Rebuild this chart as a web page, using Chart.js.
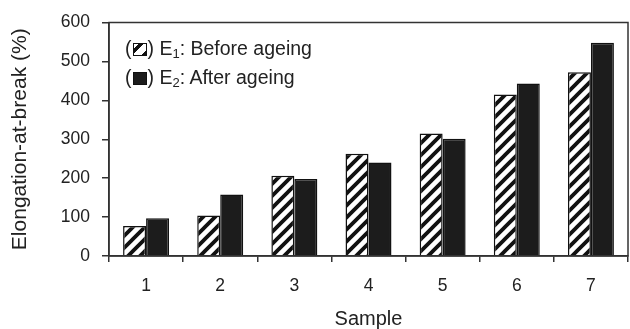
<!DOCTYPE html>
<html>
<head>
<meta charset="utf-8">
<script src="https://cdn.jsdelivr.net/npm/chart.js@4/dist/chart.umd.min.js"></script>
<style>
  html, body { margin: 0; padding: 0; background: #fff; }
  #wrap { position: relative; width: 630px; height: 329px; }
  #legend {
    position: absolute; left: 125px; top: 34px;
    font-family: "Liberation Sans", Arial, sans-serif; font-size: 19.5px; color: #222;
    line-height: 29px;
  }
  #legend sub { font-size: 13px; vertical-align: -3px; line-height: 0; }
  .box { display: inline-block; width: 14px; height: 13px; border: 1.5px solid #111;
         vertical-align: -1px; margin: 0 1px; box-sizing: border-box; }
  .hatch { background: repeating-linear-gradient(135deg, #fff 0 3px, #111 3px 6.5px, #fff 6.5px 10px); }
  .solid { background: #1c1c1c; }
</style>
</head>
<body>
<div id="wrap">
  <canvas id="elongChart" width="630" height="329"></canvas>
  <div id="legend">
    <div>(<span class="box hatch"></span>) E<sub>1</sub>: Before ageing</div>
    <div>(<span class="box solid"></span>) E<sub>2</sub>: After ageing</div>
  </div>
</div>
<script>
// 데이터
const samples = ['1', '2', '3', '4', '5', '6', '7'];
const beforeAgeing = [77, 104, 206, 263, 315, 415, 472];
const afterAgeing = [97, 158, 198, 240, 301, 443, 548];

// 빗금 패턴 만들기
function makeHatch() {
    const size = 12;
    const c = document.createElement('canvas');
    c.width = size; c.height = size;
    const g = c.getContext('2d');
    g.fillStyle = '#fff';
    g.fillRect(0, 0, size, size);
    g.strokeStyle = '#111';
    g.lineWidth = 3.8;
    g.beginPath();
    g.moveTo(-2, size + 2); g.lineTo(size + 2, -2);
    g.moveTo(-2, 2); g.lineTo(2, -2);
    g.moveTo(size - 2, size + 2); g.lineTo(size + 2, size - 2);
    g.stroke();
    return g.createPattern(c, 'repeat');
}

const ctx = document.getElementById('elongChart').getContext('2d');
const font = { family: '"Liberation Sans", Arial, sans-serif' };

// 플롯 영역 테두리
const frame = {
    id: 'frame',
    afterDraw(chart) {
        const a = chart.chartArea;
        const g = chart.ctx;
        g.save();
        g.strokeStyle = '#333';
        g.lineWidth = 1.5;
        g.strokeRect(a.left, a.top, a.right - a.left, a.bottom - a.top);
        g.restore();
    }
};

new Chart(ctx, {
    type: 'bar',
    data: {
        labels: samples,
        datasets: [{
            label: 'E1: Before ageing',
            data: beforeAgeing,
            backgroundColor: makeHatch(),
            borderColor: '#111',
            borderWidth: 1.5
        }, {
            label: 'E2: After ageing',
            data: afterAgeing,
            backgroundColor: '#1c1c1c',
            borderColor: '#111',
            borderWidth: 1.5
        }]
    },
    options: {
        responsive: false,
        animation: false,
        layout: { padding: { top: 20, right: 2, left: 0, bottom: 0 } },
        plugins: { legend: { display: false }, tooltip: { enabled: false } },
        datasets: { bar: { categoryPercentage: 0.62, barPercentage: 1.0 } },
        scales: {
            x: {
                grid: { offset: true, drawOnChartArea: false, color: '#333', tickLength: 6, lineWidth: 1.5 },
                border: { color: '#333', width: 1.5 },
                ticks: { color: '#222', font: { ...font, size: 17.5 }, padding: 14 },
                title: { display: true, text: 'Sample', color: '#222', font: { ...font, size: 20 }, padding: { top: 6, bottom: -2 } },
                afterFit(scale) { scale.height = 73; }
            },
            y: {
                min: 0, max: 600,
                grid: { drawOnChartArea: false, color: '#333', tickLength: 7, lineWidth: 1.5 },
                border: { color: '#333', width: 1.5 },
                ticks: { stepSize: 100, color: '#222', font: { ...font, size: 17.5 }, padding: 12 },
                title: { display: true, text: 'Elongation-at-break (%)', color: '#222', font: { ...font, size: 21 }, padding: { top: 8, bottom: 0 } },
                afterFit(scale) { scale.width = 109; }
            }
        }
    },
    plugins: [frame]
});
</script>
</body>
</html>
